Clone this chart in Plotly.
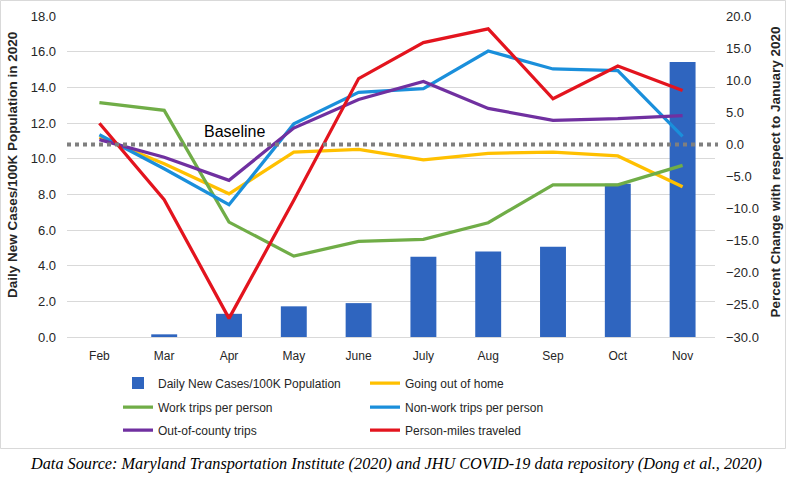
import plotly.graph_objects as go

months = ["Feb", "Mar", "Apr", "May", "June", "July", "Aug", "Sep", "Oct", "Nov"]
cases = [0, 0.15, 1.3, 1.72, 1.9, 4.5, 4.8, 5.06, 8.6, 15.42]
going_out = [1.1, -3.0, -7.7, -1.2, -0.76, -2.4, -1.4, -1.2, -1.8, -6.6]
work_trips = [6.5, 5.3, -12.1, -17.4, -15.1, -14.8, -12.2, -6.3, -6.3, -3.26]
nonwork_trips = [1.5, -3.8, -9.4, 3.2, 8.1, 8.7, 14.55, 11.75, 11.5, 1.26]
out_county = [0.75, -2.0, -5.6, 2.55, 7.0, 9.8, 5.6, 3.75, 4.0, 4.5]
person_miles = [3.3, -8.6, -27.1, -8.7, 10.25, 15.85, 18.0, 7.1, 12.2, 8.4]

left_ticks = [0, 2, 4, 6, 8, 10, 12, 14, 16, 18]
right_ticks = [-30, -25, -20, -15, -10, -5, 0, 5, 10, 15, 20]

SANS = "Liberation Sans, Arial, sans-serif"
TXT = "#262626"

fig = go.Figure()
fig.add_trace(go.Bar(x=months, y=cases, name="Daily New Cases/100K Population",
                     marker=dict(color="#2F65BF", line=dict(width=0)), width=0.4,
                     yaxis="y", legend="legend"))
lines = [
    ("Going out of home", going_out, "#FFC000", "legend"),
    ("Work trips per person", work_trips, "#70AD47", "legend2"),
    ("Non-work trips per person", nonwork_trips, "#1A8FDB", "legend2"),
    ("Out-of-county trips", out_county, "#7030A0", "legend3"),
    ("Person-miles traveled", person_miles, "#E3141E", "legend3"),
]
for name, vals, col, leg in lines:
    fig.add_trace(go.Scatter(x=months, y=vals, name=name, mode="lines",
                             line=dict(color=col, width=3.25), yaxis="y2", legend=leg))

def px_x(p):
    return (p - 67) / 648

def px_y(p):
    return (337 - p) / 321

def leg(row_center):
    return dict(orientation="h", x=px_x(118), y=px_y(row_center - 14.5),
                xanchor="left", yanchor="top", entrywidth=202, entrywidthmode="pixels",
                font=dict(family=SANS, size=12, color=TXT), bgcolor="rgba(0,0,0,0)")

fig.update_layout(
    width=786, height=478,
    margin=dict(l=67, r=71, t=16, b=141),
    plot_bgcolor="white", paper_bgcolor="white",
    xaxis=dict(showline=True, linecolor="#d9d9d9", linewidth=1, ticks="",
               tickfont=dict(family=SANS, size=12, color=TXT),
               ticklabelstandoff=8, showgrid=False),
    yaxis=dict(range=[0, 18], tickvals=left_ticks, tickformat=".1f",
               gridcolor="#d9d9d9", gridwidth=1, zeroline=False, showline=False,
               tickfont=dict(family=SANS, size=13, color=TXT), ticklabelstandoff=10,
               automargin=False),
    yaxis2=dict(range=[-30, 20], tickvals=right_ticks, tickformat=".1f", overlaying="y",
                side="right", showgrid=False, zeroline=False, showline=False,
                tickfont=dict(family=SANS, size=13, color=TXT), ticklabelstandoff=10,
                automargin=False),
    legend=leg(383),
    legend2=leg(407),
    legend3=leg(430),
    shapes=[
        dict(type="line", xref="paper", yref="y2", x0=0, x1=px_x(718), y0=0, y1=0,
             line=dict(color="#7f7f7f", width=4, dash="dot"), layer="above"),
        dict(type="rect", xref="paper", yref="paper", x0=px_x(0.5), x1=px_x(785.5),
             y0=px_y(448.5), y1=px_y(0.5), line=dict(color="#d9d9d9", width=1)),
    ],
    annotations=[
        dict(text="<b>Daily New Cases/100K Population in 2020</b>", textangle=-90,
             xref="paper", yref="paper", x=px_x(12), y=px_y(165), showarrow=False,
             xanchor="center", yanchor="middle", font=dict(family=SANS, size=13.5, color=TXT)),
        dict(text="<b>Percent Change with respect to January 2020</b>", textangle=-90,
             xref="paper", yref="paper", x=px_x(775), y=px_y(172.5), showarrow=False,
             xanchor="center", yanchor="middle", font=dict(family=SANS, size=13.5, color=TXT)),
        dict(text="Baseline", xref="paper", yref="paper", x=px_x(234.5), y=px_y(131.7),
             showarrow=False, xanchor="center", yanchor="middle",
             font=dict(family=SANS, size=16, color="#000000")),
        dict(text="<i>Data Source: Maryland Transportation Institute (2020) and JHU COVID-19 data repository (Dong et al., 2020)</i>",
             xref="paper", yref="paper", x=px_x(396), y=px_y(463.5), showarrow=False,
             xanchor="center", yanchor="middle",
             font=dict(family="Liberation Serif, Times New Roman, serif", size=16.25, color="#000000")),
    ],
)

fig.write_html("out.html", config={"displayModeBar": False},
               post_script="document.body.style.margin='0px';")
